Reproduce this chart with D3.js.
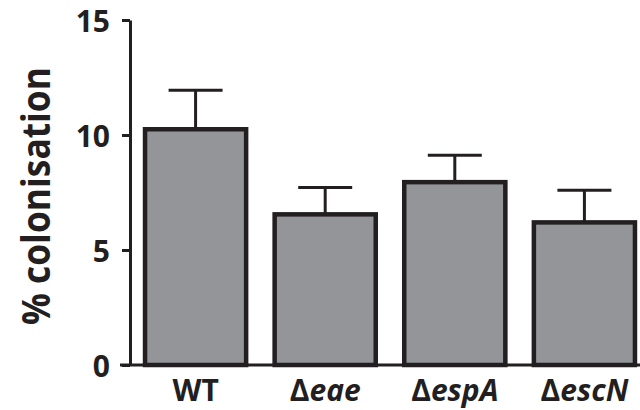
<!DOCTYPE html>
<html lang="en">
<head>
    <meta charset="UTF-8">
    <title>% colonisation</title>
    <script src="https://d3js.org/d3.v7.min.js"></script>
    <style>
        body {
            margin: 0;
            padding: 0;
            background: #fff;
        }
        svg {
            display: block;
            font-family: "Open Sans", "DejaVu Sans", sans-serif;
        }
    </style>
</head>
<body>
    <div id="chart"></div>
    <script>
        // values
        var strains = ["WT", "eae", "espA", "escN"];
        var means = [10.25, 6.55, 7.95, 6.2];
        var sem = [1.7, 1.17, 1.17, 1.4];
        var yTicks = [0, 5, 10, 15];

        var w = 640;
        var h = 410;
        var ink = "#231f20";

        var svg = d3.select("#chart")
            .append("svg")
            .attr("width", w)
            .attr("height", h);

        var y = d3.scaleLinear()
            .domain([0, 15])
            .range([365, 20]);

        var x = d3.scaleBand()
            .domain(strains)
            .range([130, 650])
            .paddingInner(0.22)
            .paddingOuter(0.116);

        // y axis
        var yAxis = svg.append("g")
            .attr("transform", "translate(130,0)")
            .call(d3.axisLeft(y)
                .tickValues(yTicks)
                .tickSize(8)
                .tickSizeOuter(0)
                .tickPadding(12));
        yAxis.select(".domain")
            .attr("stroke", ink)
            .attr("stroke-width", 3);
        yAxis.selectAll(".tick line")
            .attr("stroke", ink)
            .attr("stroke-width", 3);
        yAxis.selectAll(".tick text")
            .attr("fill", ink)
            .attr("dy", "0.38em")
            .attr("font-family", "Open Sans, sans-serif")
            .attr("font-weight", 700)
            .attr("font-size", 30);

        // bars
        var data = strains.map((s, i) => ({ name: s, mean: means[i], err: sem[i] }));

        var bars = svg.append("g")
            .selectAll("g")
            .data(data)
            .enter()
            .append("g");

        // error bars (upper only)
        bars.append("line")
            .attr("x1", d => x(d.name) + x.bandwidth() / 2)
            .attr("x2", d => x(d.name) + x.bandwidth() / 2)
            .attr("y1", d => y(d.mean))
            .attr("y2", d => y(d.mean + d.err))
            .attr("stroke", ink)
            .attr("stroke-width", 3);

        bars.append("line")
            .attr("x1", d => x(d.name) + x.bandwidth() / 2 - 27)
            .attr("x2", d => x(d.name) + x.bandwidth() / 2 + 27)
            .attr("y1", d => y(d.mean + d.err))
            .attr("y2", d => y(d.mean + d.err))
            .attr("stroke", ink)
            .attr("stroke-width", 3);

        bars.append("rect")
            .attr("x", d => x(d.name))
            .attr("y", d => y(d.mean))
            .attr("width", x.bandwidth())
            .attr("height", d => y(0) - y(d.mean))
            .attr("fill", "#939598")
            .attr("stroke", ink)
            .attr("stroke-width", 4.5);

        // x baseline
        svg.append("line")
            .attr("x1", 120)
            .attr("x2", w)
            .attr("y1", y(0))
            .attr("y2", y(0))
            .attr("stroke", ink)
            .attr("stroke-width", 3);

        // category labels
        var labels = svg.append("g")
            .selectAll("text")
            .data(strains)
            .enter()
            .append("text")
            .attr("x", d => x(d) + x.bandwidth() / 2)
            .attr("y", 401)
            .attr("text-anchor", "middle")
            .attr("font-size", 30)
            .attr("font-weight", 700)
            .attr("fill", ink);

        labels.each(function (d) {
            var t = d3.select(this);
            if (d === "WT") {
                t.text(d);
            } else {
                t.append("tspan").text("\u0394");
                t.append("tspan").attr("font-style", "italic").text(d);
            }
        });

        // y label
        svg.append("text")
            .attr("transform", "translate(50,196) rotate(-90)")
            .attr("text-anchor", "middle")
            .attr("font-size", 39)
            .attr("font-weight", 700)
            .attr("textLength", 258)
            .attr("lengthAdjust", "spacingAndGlyphs")
            .attr("fill", ink)
            .text("% colonisation");
    </script>
</body>
</html>
